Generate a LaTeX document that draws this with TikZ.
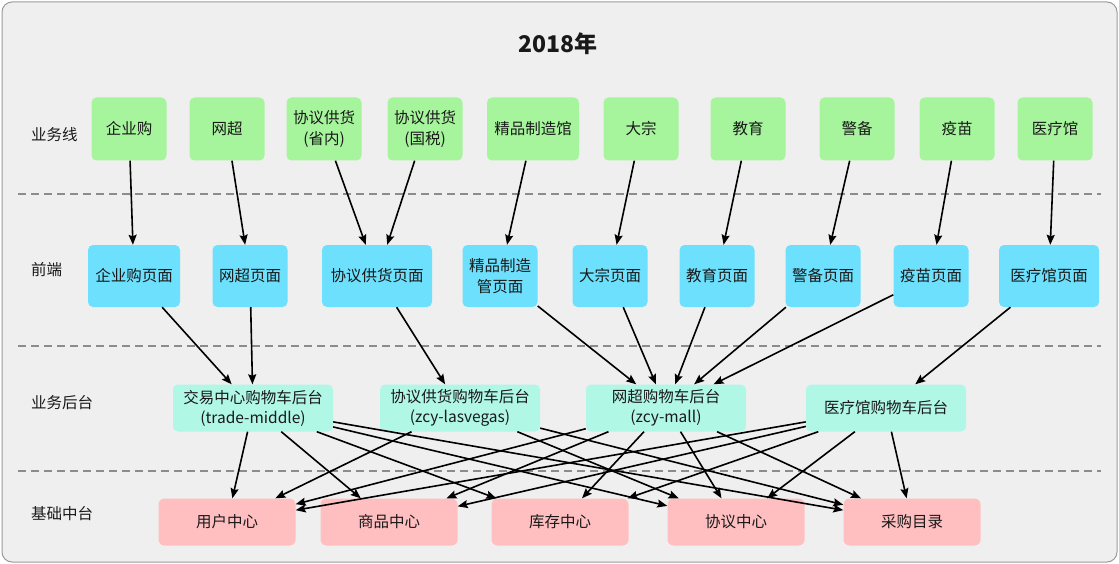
\documentclass[tikz,border=0pt]{standalone}
\usepackage{fontspec}
\setmainfont{Noto Sans CJK SC}
\usepackage{tikz}
\usetikzlibrary{arrows.meta}

\definecolor{framebg}{HTML}{EFEFEF}
\definecolor{framegray}{HTML}{9A9A9A}
\definecolor{sepgray}{HTML}{8C8C8C}
\definecolor{linegreen}{HTML}{A6F59C}
\definecolor{pageblue}{HTML}{6CE0FC}
\definecolor{cartmint}{HTML}{B0F7E6}
\definecolor{basepink}{HTML}{FFBFC1}

\begin{document}
\begin{tikzpicture}[x=1pt, y=-1pt,
					every node/.style={
						font=\fontsize{15.5}{21.5}\selectfont,
						text=black!90, inner sep=0pt
					},
					linebox/.style={fill=linegreen, rounded corners=5pt, minimum width=75pt, minimum height=63pt, align=center},
					pagebox/.style={fill=pageblue, rounded corners=5pt, minimum width=75pt, minimum height=62pt, align=center},
					cartbox/.style={fill=cartmint, rounded corners=5pt, minimum width=160pt, minimum height=47pt, align=center, font=\fontsize{15.5}{20}\selectfont},
					basebox/.style={fill=basepink, rounded corners=6pt, minimum width=137pt, minimum height=47pt},
					rowlabel/.style={anchor=west},
					sepline/.style={draw=sepgray, line width=1.5pt, dash pattern=on 8pt off 5pt},
					link/.style={-{Stealth[length=10pt, width=8pt, inset=1.5pt]}, line width=1.6pt, black}
				]
				\useasboundingbox (0,0) rectangle (1119,564);
				\draw[fill=framebg, draw=framegray, line width=1pt, rounded corners=10pt] (2,2) rectangle (1117,562);
				
				\node[font=\fontsize{23}{27}\selectfont\bfseries] (title) at (558,44) {2018年};
				
				\node[rowlabel] (r1) at (31,135) {业务线};
				\node[rowlabel] (r2) at (31,270) {前端};
				\node[rowlabel] (r3) at (31,403) {业务后台};
				\node[rowlabel] (r4) at (31,514) {基础中台};
				
				\draw[sepline] (18,194) -- (1101,194);
				\draw[sepline] (18,346) -- (1101,346);
				\draw[sepline] (18,471) -- (1101,471);
				
				\node[linebox] (qy) at (129,129) {企业购};
				\node[linebox] (wc) at (227,129) {网超};
				\node[linebox] (sn) at (324,129) {协议供货\\(省内)};
				\node[linebox] (gs) at (425,129) {协议供货\\(国税)};
				\node[linebox, minimum width=92pt] (jp) at (533,129) {精品制造馆};
				\node[linebox] (dz) at (641,129) {大宗};
				\node[linebox] (jy) at (748,129) {教育};
				\node[linebox] (jb) at (857,129) {警备};
				\node[linebox] (ym) at (957,129) {疫苗};
				\node[linebox] (yl) at (1055,129) {医疗馆};
				
				\node[pagebox, minimum width=92pt] (qyp) at (134,276) {企业购页面};
				\node[pagebox] (wcp) at (250,276) {网超页面};
				\node[pagebox, minimum width=110pt] (xyp) at (377,276) {协议供货页面};
				\node[pagebox] (jpp) at (500,276) {精品制造\\管页面};
				\node[pagebox] (dzp) at (610,276) {大宗页面};
				\node[pagebox] (jyp) at (717,276) {教育页面};
				\node[pagebox] (jbp) at (823,276) {警备页面};
				\node[pagebox] (ymp) at (931,276) {疫苗页面};
				\node[pagebox, minimum width=100pt] (ylp) at (1049,276) {医疗馆页面};
				
				\node[cartbox] (tm) at (253,408) {交易中心购物车后台\\(trade-middle)};
				\node[cartbox] (lv) at (460,408) {协议供货购物车后台\\(zcy-lasvegas)};
				\node[cartbox] (zm) at (666,408) {网超购物车后台\\(zcy-mall)};
				\node[cartbox] (ylc) at (886,408) {医疗馆购物车后台};
				
				\node[basebox] (yh) at (227,522) {用户中心};
				\node[basebox] (sp) at (389,522) {商品中心};
				\node[basebox] (kc) at (560,522) {库存中心};
				\node[basebox] (xy) at (736,522) {协议中心};
				\node[basebox] (cg) at (912,522) {采购目录};
				
				\draw[link] (qy) edge (qyp)
					(wc) edge (wcp)
					(sn) edge (xyp)
					(gs) edge (xyp)
					(jp) edge (jpp)
					(dz) edge (dzp)
					(jy) edge (jyp)
					(jb) edge (jbp)
					(ym) edge (ymp)
					(yl) edge (ylp)
				;
				\draw[link] (qyp) edge (tm)
					(wcp) edge (tm)
					(xyp) edge (lv)
					(jpp) edge (zm)
					(dzp) edge (zm)
					(jyp) edge (zm)
					(jbp) edge (zm)
					(ymp) edge (zm)
					(ylp) edge (ylc)
				;
				\draw[link] (tm) edge (yh) edge (sp) edge (kc) edge (xy) edge (cg)
					(lv) edge (yh) edge (xy) edge (cg)
					(zm) edge (yh) edge (sp) edge (kc) edge (xy) edge (cg)
					(ylc) edge (yh) edge (sp) edge (kc) edge (xy) edge (cg)
				;
			\end{tikzpicture}
\end{document}
